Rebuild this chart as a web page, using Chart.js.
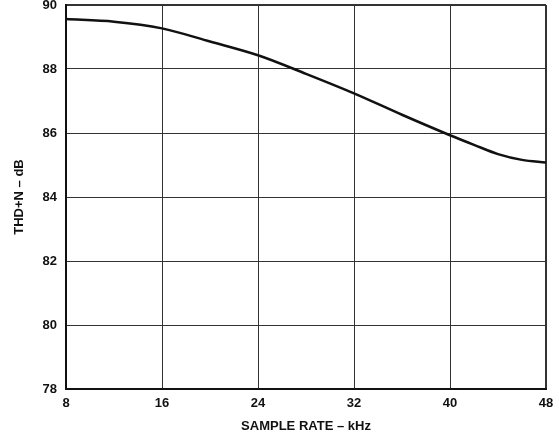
<!DOCTYPE html>
<html>
<head>
<meta charset="utf-8">
<script src="https://cdn.jsdelivr.net/npm/chart.js@4"></script>
<style>
  html, body { margin: 0; padding: 0; background: #fff; }
  #chartBox { width: 559px; height: 440px; }
</style>
</head>
<body>
<div id="chartBox"><canvas id="myChart"></canvas></div>
<script>
// values
let sampleRates = [8, 12, 16, 20, 24, 28, 32, 36, 40, 42, 44, 46, 48];
let thdN = [89.56, 89.48, 89.27, 88.86, 88.43, 87.85, 87.24, 86.57, 85.93, 85.63, 85.34, 85.16, 85.08];
let xTicks = [8, 16, 24, 32, 40, 48];
let yTicks = [78, 80, 82, 84, 86, 88, 90];

const fontFamily = "'Liberation Sans', Arial, Helvetica, sans-serif";

function makeChart() {
  const points = sampleRates.map((x, i) => ({ x: x, y: thdN[i] }));

  const data = {
    datasets: [{
      label: 'THD+N',
      data: points,
      borderColor: '#111',
      borderWidth: 2.5,
      pointRadius: 0,
      fill: false,
      cubicInterpolationMode: 'monotone'
    }]
  };

  const config = {
    type: 'line',
    data,
    options: {
      responsive: true,
      maintainAspectRatio: false,
      animation: false,
      layout: { padding: { left: 0, top: 5, right: 13, bottom: 0 } },
      plugins: { legend: { display: false }, tooltip: { enabled: false } },
      scales: {
        x: {
          type: 'linear',
          min: xTicks[0],
          max: xTicks[xTicks.length - 1],
          afterBuildTicks: (axis) => { axis.ticks = xTicks.map(v => ({ value: v })); },
          afterFit: (axis) => {
            axis.height = 51;
            axis.paddingLeft = 0;
            axis.paddingRight = 0;
          },
          grid: {
            drawTicks: false,
            color: '#333',
            lineWidth: (ctx) => (ctx.tick && ctx.tick.value === 48 ? 2 : 1)
          },
          border: { color: '#111', width: 2 },
          ticks: {
            padding: 7,
            color: '#111',
            font: { family: fontFamily, size: 13, weight: 'bold' }
          },
          title: {
            display: true,
            text: 'SAMPLE RATE – kHz',
            color: '#111',
            padding: { top: 0, bottom: 6 },
            font: { family: fontFamily, size: 13, weight: 'bold' }
          }
        },
        y: {
          type: 'linear',
          min: yTicks[0],
          max: yTicks[yTicks.length - 1],
          afterBuildTicks: (axis) => { axis.ticks = yTicks.map(v => ({ value: v })); },
          afterFit: (axis) => {
            axis.width = 66;
            axis.paddingTop = 0;
            axis.paddingBottom = 0;
          },
          grid: {
            drawTicks: false,
            color: '#333',
            lineWidth: (ctx) => (ctx.tick && ctx.tick.value === 90 ? 2 : 1)
          },
          border: { color: '#111', width: 2 },
          ticks: {
            padding: 9,
            color: '#111',
            font: { family: fontFamily, size: 13, weight: 'bold' }
          },
          title: {
            display: true,
            text: 'THD+N – dB',
            color: '#111',
            padding: { top: 12, bottom: 0 },
            font: { family: fontFamily, size: 13, weight: 'bold' }
          }
        }
      }
    }
  };

  var myChart = new Chart(document.getElementById('myChart'), config);
}
makeChart();
</script>
</body>
</html>
